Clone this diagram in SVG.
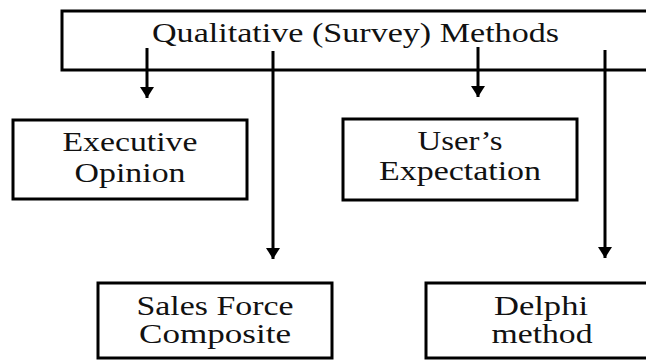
<svg xmlns="http://www.w3.org/2000/svg" width="646" height="360" viewBox="0 0 646 360">
<style>
.box{fill:#fff;stroke:#000;stroke-width:3}
.t{font-family:"Liberation Serif","Times New Roman",serif;font-size:26.5px;fill:#111;text-anchor:middle}
.conn{stroke:#000;stroke-width:3;fill:none}
</style>
<defs>
<marker id="ah" markerUnits="userSpaceOnUse" markerWidth="14" markerHeight="14" viewBox="0 0 11 14" refX="11" refY="7" orient="auto">
<path d="M0,0 L11,7 L0,14 Z" fill="#000"/>
</marker>
</defs>
<rect width="646" height="360" fill="#fff"/>
<g id="root">
<rect class="box" x="62" y="11" width="600" height="59"/>
<text class="t" x="355.5" y="42" textLength="407" lengthAdjust="spacingAndGlyphs">Qualitative (Survey) Methods</text>
</g>
<g id="executive">
<rect class="box" x="13" y="120" width="234" height="79"/>
<text class="t" x="130" y="151" textLength="135" lengthAdjust="spacingAndGlyphs">Executive</text>
<text class="t" x="130" y="182" textLength="111" lengthAdjust="spacingAndGlyphs">Opinion</text>
</g>
<g id="users">
<rect class="box" x="343" y="119" width="234" height="81"/>
<text class="t" x="460" y="150" textLength="85" lengthAdjust="spacingAndGlyphs">User’s</text>
<text class="t" x="460" y="180" textLength="162" lengthAdjust="spacingAndGlyphs">Expectation</text>
</g>
<g id="sales">
<rect class="box" x="98" y="283" width="234" height="75"/>
<text class="t" x="215" y="315" textLength="157" lengthAdjust="spacingAndGlyphs">Sales Force</text>
<text class="t" x="215" y="343" textLength="152" lengthAdjust="spacingAndGlyphs">Composite</text>
</g>
<g id="delphi">
<rect class="box" x="426" y="283" width="234" height="75"/>
<text class="t" x="541" y="315" textLength="94" lengthAdjust="spacingAndGlyphs">Delphi</text>
<text class="t" x="542" y="343" textLength="101" lengthAdjust="spacingAndGlyphs">method</text>
</g>
<g id="connectors">
<line class="conn" x1="147" y1="48" x2="147" y2="98" marker-end="url(#ah)"/>
<line class="conn" x1="273" y1="51" x2="273" y2="259" marker-end="url(#ah)"/>
<line class="conn" x1="478" y1="47" x2="478" y2="97" marker-end="url(#ah)"/>
<line class="conn" x1="605" y1="50" x2="605" y2="258" marker-end="url(#ah)"/>
</g>
</svg>
